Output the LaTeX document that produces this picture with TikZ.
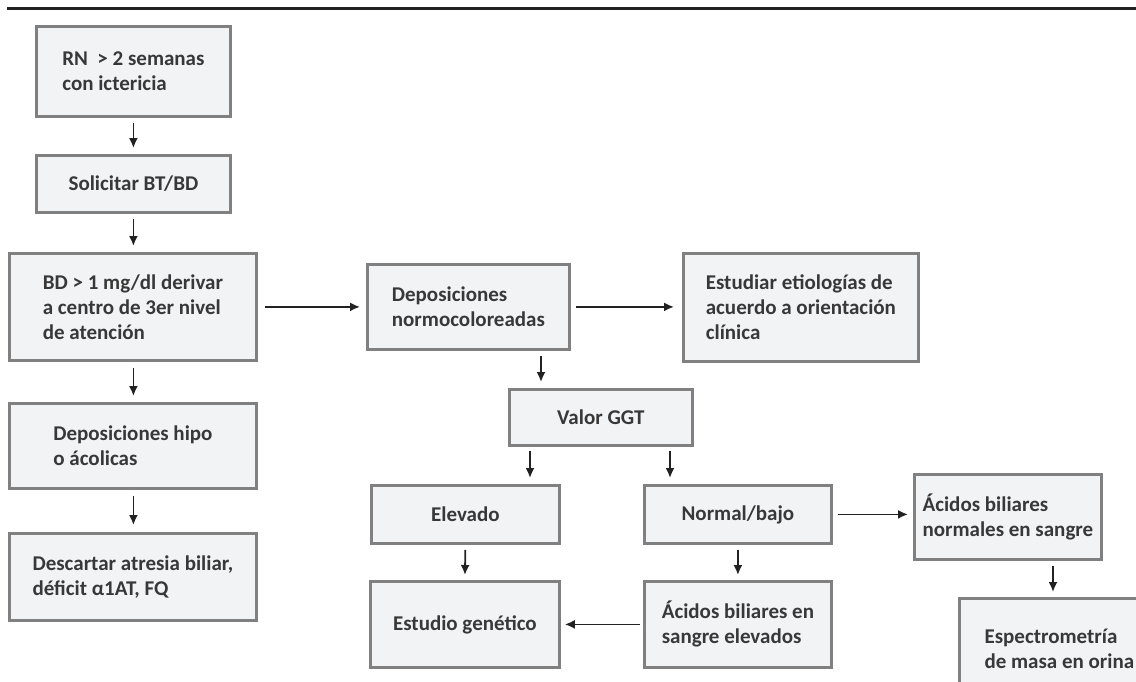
\documentclass[tikz,border=0pt]{standalone}
\usepackage{fontspec}
\setmainfont{Carlito}
\usetikzlibrary{arrows.meta}
\definecolor{boxfill}{HTML}{F2F3F5}
\definecolor{boxline}{HTML}{808080}
\definecolor{txtcol}{HTML}{383838}
\definecolor{arrcol}{HTML}{222222}
\tikzset{
  box/.style={draw=boxline, line width=2.8pt, fill=boxfill, text=txtcol,
    font=\fontsize{21}{25}\selectfont\bfseries, align=left, inner sep=0pt,
    anchor=north west},
  arr/.style={draw=arrcol, line width=1.8pt, -{Latex[length=10pt,width=9pt]}},
}
\begin{document}
\begin{tikzpicture}[x=1pt,y=-1pt]
\useasboundingbox (0,0) rectangle (1136,681);
\clip (0,0) rectangle (1136,681);
\fill[white] (0,0) rectangle (1136,681);
\draw[line width=3pt, arrcol] (7,8) -- (1140,8);

\node[box, minimum width=194, minimum height=90] (rn) at (35,25) {RN\ \ > 2 semanas\\con ictericia};
\node[box, minimum width=194, minimum height=57, align=center] (sol) at (35,154) {Solicitar BT/BD};
\node[box, minimum width=247, minimum height=107] (bd) at (8,252) {BD > 1 mg/dl derivar\\a centro de 3er nivel\\de atención};
\node[box, minimum width=247, minimum height=85] (hipo) at (8,402) {Deposiciones hipo\\o ácolicas};
\node[box, minimum width=247, minimum height=87] (desc) at (8,532) {Descartar atresia biliar,\\déficit α1AT, FQ};
\node[box, minimum width=202, minimum height=85] (normo) at (366,263) {Deposiciones\\normocoloreadas};
\node[box, minimum width=235, minimum height=108] (estu) at (682,252) {Estudiar etiologías de\\acuerdo a orientación\\clínica};
\node[box, minimum width=183, minimum height=56, align=center] (ggt) at (508,388) {Valor GGT};
\node[box, minimum width=188, minimum height=58, align=center] (elev) at (370,484) {Elevado};
\node[box, minimum width=187, minimum height=58, align=center] (norm) at (643,484) {Normal/bajo};
\node[box, minimum width=189, minimum height=86, align=center] (gen) at (369,580) {Estudio genético};
\node[box, minimum width=187, minimum height=86] (acel) at (643,580) {Ácidos biliares en\\sangre elevados};
\node[box, minimum width=187, minimum height=85] (acno) at (913,473) {Ácidos biliares\\normales en sangre};
\node[box, minimum width=200, minimum height=100] (esp) at (958,597) {Espectrometría\\de masa en orina};

\coordinate (c1) at (541,0);
\coordinate (c2) at (530,0);
\coordinate (c3) at (670,0);
\coordinate (c4) at (1053,0);

\draw[arr, shorten <=5pt, shorten >=6pt] (rn.south -| sol.north) -- (sol.north);
\draw[arr, shorten <=5pt, shorten >=6pt] (sol.south) -- (sol.south |- bd.north);
\draw[arr, shorten <=6pt, shorten >=6pt] (bd.south -| sol.south) -- (sol.south |- hipo.north);
\draw[arr, shorten <=6pt, shorten >=7pt] (hipo.south -| sol.south) -- (sol.south |- desc.north);
\draw[arr, shorten <=7pt, shorten >=6pt] (bd.east |- normo.west) -- (normo.west);
\draw[arr, shorten <=5pt, shorten >=8pt] (normo.east) -- (normo.east -| estu.west);
\draw[arr, shorten <=5pt, shorten >=6pt] (normo.south -| c1) -- (ggt.north -| c1);
\draw[arr, shorten <=4pt, shorten >=6pt] (ggt.south -| c2) -- (elev.north -| c2);
\draw[arr, shorten <=4pt, shorten >=6pt] (ggt.south -| c3) -- (norm.north -| c3);
\draw[arr, shorten <=5pt, shorten >=5pt] (elev.south) -- (gen.north);
\draw[arr, shorten <=5pt, shorten >=5pt] (norm.south) -- (acel.north);
\draw[arr, shorten <=3pt, shorten >=4pt] (acel.west) -- (acel.west -| gen.east);
\draw[arr, shorten <=5pt, shorten >=5pt] (norm.east) -- (norm.east -| acno.west);
\draw[arr, shorten <=5pt, shorten >=5pt] (acno.south -| c4) -- (esp.north -| c4);
\end{tikzpicture}
\end{document}
